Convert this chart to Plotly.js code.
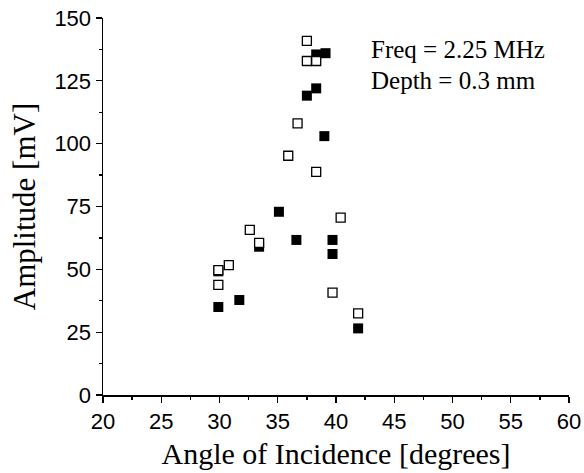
<!DOCTYPE html>
<html>
<head>
<meta charset="utf-8">
<script src="https://cdn.plot.ly/plotly-3.0.1.min.js"></script>
<style>html,body{margin:0;padding:0;background:#fff;}#chart{width:584px;height:473px;}</style>
</head>
<body>
<div id="chart"></div>
<script>
var filledAngle = [29.9, 29.9, 31.7, 33.4, 35.1, 36.6, 37.5, 38.3, 38.3, 39.1, 39.0, 39.7, 39.7, 41.9];
var filledAmp   = [35.0, 49.2, 37.8, 59.0, 72.9, 61.7, 119.1, 122.0, 135.5, 136.0, 103.0, 61.7, 56.1, 26.5];
var openAngle = [29.9, 29.9, 30.8, 32.6, 33.4, 35.9, 36.7, 37.5, 37.5, 38.3, 38.3, 40.4, 39.7, 41.9];
var openAmp   = [49.7, 43.8, 51.7, 65.7, 60.5, 95.2, 108.1, 140.9, 132.9, 132.9, 88.8, 70.6, 40.7, 32.5];
var xTicks = [20, 25, 30, 35, 40, 45, 50, 55, 60];
var yTicks = [0, 25, 50, 75, 100, 125, 150];
var noteLines = ["Freq = 2.25 MHz", "Depth = 0.3 mm"];

var traces = [
  {x: filledAngle, y: filledAmp, type: 'scatter', mode: 'markers', name: 'filled',
   marker: {symbol: 'square', size: 10, color: '#000', line: {width: 0}}},
  {x: openAngle, y: openAmp, type: 'scatter', mode: 'markers', name: 'open',
   marker: {symbol: 'square', size: 9, color: '#fff', line: {width: 1.3, color: '#000'}}}
];

var axisCommon = {
  showline: true, linecolor: '#000', linewidth: 1.5, mirror: false,
  ticks: 'outside', ticklen: 6, tickwidth: 1.3, tickcolor: '#000',
  showgrid: false, zeroline: false,
  tickfont: {family: 'Liberation Sans, Arial, sans-serif', size: 22, color: '#000'}
};

var serif = 'Liberation Serif, Times New Roman, serif';

var layout = {
  width: 584, height: 473,
  margin: {l: 103, r: 15, t: 18, b: 78},
  paper_bgcolor: '#fff', plot_bgcolor: '#fff',
  showlegend: false,
  xaxis: Object.assign({}, axisCommon, {
    range: [20, 60], tickvals: xTicks, ticktext: xTicks.map(String),
    minor: {tickvals: [22.5, 27.5, 32.5, 37.5, 42.5, 47.5, 52.5, 57.5], ticks: 'outside', ticklen: 3, tickwidth: 1.3, tickcolor: '#000'},
    title: {text: 'Angle of Incidence [degrees]', standoff: 10,
            font: {family: serif, size: 30, color: '#000'}}
  }),
  yaxis: Object.assign({}, axisCommon, {
    range: [0, 150], tickvals: yTicks, ticktext: yTicks.map(String),
    minor: {tickvals: [12.5, 37.5, 62.5, 87.5, 112.5, 137.5], ticks: 'outside', ticklen: 3, tickwidth: 1.3, tickcolor: '#000'},
    title: {text: 'Amplitude [mV]', standoff: 9,
            font: {family: serif, size: 31, color: '#000'}}
  }),
  annotations: [
    {xref: 'paper', yref: 'paper', x: (369 - 103) / 466, y: 1 - (50 - 18) / 377, xanchor: 'left', yanchor: 'middle',
     text: noteLines[0], showarrow: false, font: {family: serif, size: 25, color: '#000'}},
    {xref: 'paper', yref: 'paper', x: (369 - 103) / 466, y: 1 - (80 - 18) / 377, xanchor: 'left', yanchor: 'middle',
     text: noteLines[1], showarrow: false, font: {family: serif, size: 25, color: '#000'}}
  ]
};

Plotly.newPlot('chart', traces, layout, {displayModeBar: false, staticPlot: true});
</script>
</body>
</html>
